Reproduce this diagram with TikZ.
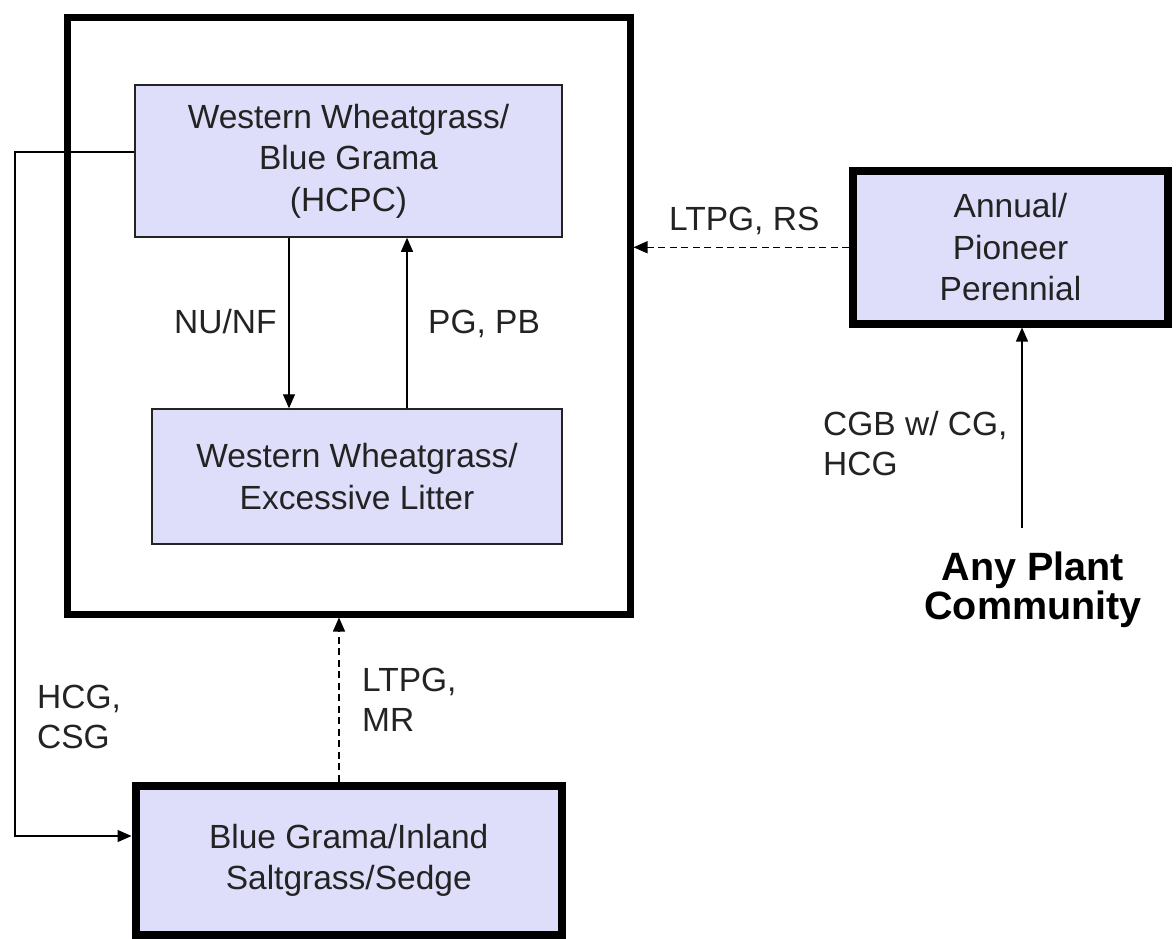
\documentclass[tikz,border=0pt]{standalone}
\usepackage{fontspec}
\setmainfont{Liberation Sans}
\usetikzlibrary{arrows.meta}
\definecolor{boxfill}{RGB}{222,222,250}
\definecolor{ink}{RGB}{35,35,35}
\newcommand\bxfont{\fontsize{33.5}{41.5}\selectfont}
\newcommand\lbfont{\fontsize{33.5}{40}\selectfont}
\begin{document}
\begin{tikzpicture}[x=1pt, y=-1pt, line join=miter,
  thinbox/.style={draw=ink, line width=1.5pt, fill=boxfill, inner sep=0pt, font=\bxfont, align=center, text=ink},
  thickbox/.style={draw=black, line width=8pt, fill=boxfill, inner sep=0pt, font=\bxfont, align=center, text=ink},
  frame/.style={draw=black, line width=7pt, inner sep=0pt},
  conn/.style={draw=black, line width=1.3pt},
  arr/.style={conn, -{Triangle[length=14pt, width=12pt]}},
  dasharr/.style={arr, dash pattern=on 7pt off 4.5pt},
  lbl/.style={inner sep=0pt, anchor=base west, text=ink, font=\lbfont}]
\useasboundingbox (0,0) rectangle (1176,938);
\fill[white] (0,0) rectangle (1176,938);

% outer frame
\node[frame, minimum width=563, minimum height=596.5] (outer) at (348.5,315.75) {};

% boxes
\node[thinbox, minimum width=427, minimum height=152] (hcpc) at (348.5,161) {Western Wheatgrass/\\Blue Grama\\(HCPC)};
\node[thinbox, minimum width=410, minimum height=135] (litter) at (357,476.5) {Western Wheatgrass/\\Excessive Litter};
\node[thickbox, minimum width=315, minimum height=152.5] (annual) at (1010.5,247.25) {Annual/\\Pioneer\\Perennial};
\node[thickbox, minimum width=426.5, minimum height=149.5] (blue) at (348.75,860.25) {Blue Grama/Inland\\Saltgrass/Sedge};

% coordinates
\coordinate (nux) at (289,0);
\coordinate (pgx) at (407,0);
\coordinate (mrx) at (339,0);
\coordinate (c1) at (15,152);
\coordinate (c2) at (15,836);
\coordinate (anyTop) at (1022,528);

% connectors
\draw[arr] ([yshift=9pt]hcpc.west) -- (c1) -- (c2) -- (c2 -| blue.west);
\draw[arr] (hcpc.south -| nux) -- (litter.north -| nux);
\draw[arr] (litter.north -| pgx) -- (hcpc.south -| pgx);
\draw[dasharr] (annual.west) -- (annual.west -| outer.east);
\draw[dasharr] (blue.north -| mrx) -- (outer.south -| mrx);
\draw[arr] (anyTop) -- (annual.south -| anyTop);

% labels
\node[lbl] (nunf) at (174,333) {NU/NF};
\node[lbl] (pgpb) at (428,333) {PG, PB};
\node[lbl] (ltpgrs) at (669,230) {LTPG, RS};
\node[lbl] (cgb) at (823,435) {\begin{tabular}[t]{@{}l@{}}CGB w/ CG,\\HCG\end{tabular}};
\node[lbl] (ltpgmr) at (362,691) {\begin{tabular}[t]{@{}l@{}}LTPG,\\MR\end{tabular}};
\node[lbl] (hcgcsg) at (37,708) {\begin{tabular}[t]{@{}l@{}}HCG,\\CSG\end{tabular}};
\node[inner sep=0pt, anchor=base, font=\bfseries\fontsize{39.5}{37}\selectfont, text=black] (any) at (1033,580) {\begin{tabular}[t]{@{}c@{}}Any Plant\\Community\end{tabular}};
\end{tikzpicture}
\end{document}
